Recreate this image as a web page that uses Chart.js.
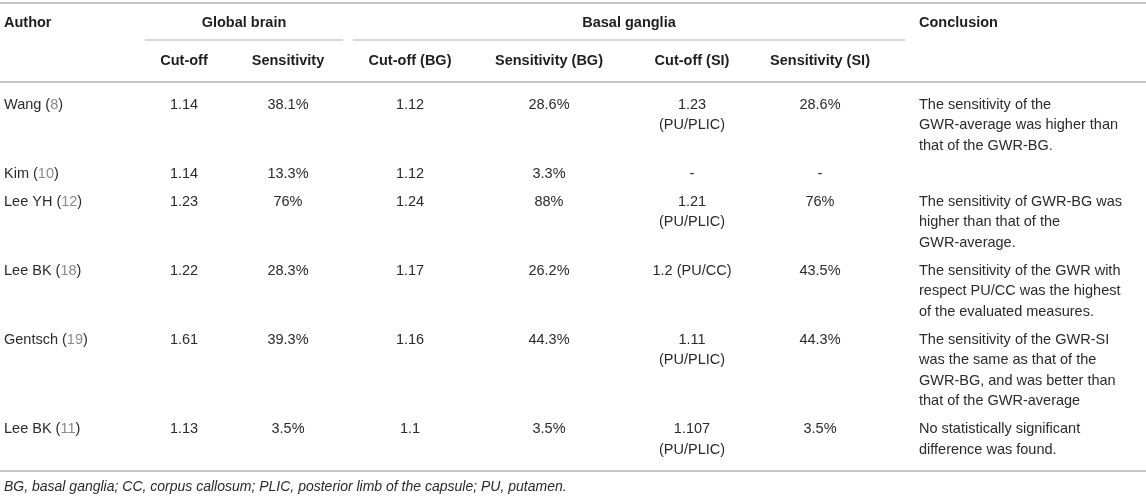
<!DOCTYPE html>
<html>
<head>
<meta charset="utf-8">
<script src="https://cdn.jsdelivr.net/npm/chart.js@4/dist/chart.umd.min.js"></script>
<style>
  html, body { margin: 0; padding: 0; background: #fff; }
  #wrap { width: 1146px; height: 499px; position: relative; }
</style>
</head>
<body>
<div id="wrap"><canvas id="c"></canvas></div>
<script>
// ---------- DATA ----------
const groupHeaders = ["Global brain", "Basal ganglia"];
const columnHeaders = ["Author", "Cut-off", "Sensitivity", "Cut-off (BG)", "Sensitivity (BG)", "Cut-off (SI)", "Sensitivity (SI)", "Conclusion"];
const authors = ["Wang", "Kim", "Lee YH", "Lee BK", "Gentsch", "Lee BK"];
const refs = ["8", "10", "12", "18", "19", "11"];
const globalCutoff = ["1.14", "1.14", "1.23", "1.22", "1.61", "1.13"];
const globalSens = ["38.1%", "13.3%", "76%", "28.3%", "39.3%", "3.5%"];
const bgCutoff = ["1.12", "1.12", "1.24", "1.17", "1.16", "1.1"];
const bgSens = ["28.6%", "3.3%", "88%", "26.2%", "44.3%", "3.5%"];
const siCutoff = [["1.23", "(PU/PLIC)"], ["-"], ["1.21", "(PU/PLIC)"], ["1.2 (PU/CC)"], ["1.11", "(PU/PLIC)"], ["1.107", "(PU/PLIC)"]];
const siSens = ["28.6%", "-", "76%", "43.5%", "44.3%", "3.5%"];
const conclusions = [
  ["The sensitivity of the", "GWR-average was higher than", "that of the GWR-BG."],
  [],
  ["The sensitivity of GWR-BG was", "higher than that of the", "GWR-average."],
  ["The sensitivity of the GWR with", "respect PU/CC was the highest", "of the evaluated measures."],
  ["The sensitivity of the GWR-SI", "was the same as that of the", "GWR-BG, and was better than", "that of the GWR-average"],
  ["No statistically significant", "difference was found."]
];
const footnote = "BG, basal ganglia; CC, corpus callosum; PLIC, posterior limb of the capsule; PU, putamen.";

// ---------- LAYOUT (positions / styles, in scale units) ----------
const W = 1146, H = 499;
const colX = { author: 4, gCut: 184, gSens: 288, bCut: 410, bSens: 549, sCut: 692, sSens: 820, concl: 919 };
const layout = {
  topLine: 3, groupY: 23, underlineY: 40, headY: 61, headLine: 82,
  firstRowY: 104.5, lineH: 20.5, rowGap: 7.5, bottomLine: 471, footY: 487,
  gUnder: [145, 343], bUnder: [353, 905],
  headerGroupX: [244, 629], conclHeadX: 919
};
const FONT = '"Liberation Sans", Arial, Helvetica, sans-serif';
const style = {
  size: 14.5, footSize: 14, text: "#2b2b2b", head: "#1e1e1e", ref: "#8a8a8a",
  rule: "#c6c6c6", thinRule: "#c9c9c9"
};

const tablePlugin = {
  id: "tableDraw",
  afterDraw(chart) {
    const ctx = chart.ctx;
    const sx = chart.scales.x, sy = chart.scales.y;
    const X = v => sx.getPixelForValue(v);
    const Y = v => sy.getPixelForValue(v);
    ctx.save();
    ctx.textBaseline = "middle";

    function hline(x0, x1, y, w, col) {
      ctx.beginPath();
      ctx.strokeStyle = col; ctx.lineWidth = w;
      ctx.moveTo(X(x0), Y(y)); ctx.lineTo(X(x1), Y(y)); ctx.stroke();
    }
    hline(0, W, layout.topLine, 2, style.rule);
    hline(layout.gUnder[0], layout.gUnder[1], layout.underlineY, 1.5, style.thinRule);
    hline(layout.bUnder[0], layout.bUnder[1], layout.underlineY, 1.5, style.thinRule);
    hline(0, W, layout.headLine, 2, style.rule);
    hline(0, W, layout.bottomLine, 2, style.rule);

    // headers
    ctx.font = "bold " + style.size + "px " + FONT;
    ctx.fillStyle = style.head;
    ctx.textAlign = "left";
    ctx.fillText(columnHeaders[0], X(colX.author), Y(layout.groupY));
    ctx.fillText(columnHeaders[7], X(layout.conclHeadX), Y(layout.groupY));
    ctx.textAlign = "center";
    ctx.fillText(groupHeaders[0], X(layout.headerGroupX[0]), Y(layout.groupY));
    ctx.fillText(groupHeaders[1], X(layout.headerGroupX[1]), Y(layout.groupY));
    const centers = [colX.gCut, colX.gSens, colX.bCut, colX.bSens, colX.sCut, colX.sSens];
    for (let i = 0; i < 6; i++) ctx.fillText(columnHeaders[i + 1], X(centers[i]), Y(layout.headY));

    // body
    ctx.font = style.size + "px " + FONT;
    let y = layout.firstRowY;
    for (let r = 0; r < authors.length; r++) {
      const nLines = Math.max(1, conclusions[r].length, siCutoff[r].length);
      ctx.textAlign = "left";
      let x = X(colX.author);
      const parts = [[authors[r] + " (", style.text], [refs[r], style.ref], [")", style.text]];
      for (const [t, c] of parts) {
        ctx.fillStyle = c; ctx.fillText(t, x, Y(y)); x += ctx.measureText(t).width;
      }
      ctx.fillStyle = style.text;
      ctx.textAlign = "center";
      ctx.fillText(globalCutoff[r], X(colX.gCut), Y(y));
      ctx.fillText(globalSens[r], X(colX.gSens), Y(y));
      ctx.fillText(bgCutoff[r], X(colX.bCut), Y(y));
      ctx.fillText(bgSens[r], X(colX.bSens), Y(y));
      siCutoff[r].forEach((t, k) => ctx.fillText(t, X(colX.sCut), Y(y + k * layout.lineH)));
      ctx.fillText(siSens[r], X(colX.sSens), Y(y));
      ctx.textAlign = "left";
      conclusions[r].forEach((t, k) => ctx.fillText(t, X(colX.concl), Y(y + k * layout.lineH)));
      y += nLines * layout.lineH + layout.rowGap;
    }

    // footnote
    ctx.font = "italic " + style.footSize + "px " + FONT;
    ctx.fillStyle = style.text;
    ctx.textAlign = "left";
    ctx.fillText(footnote, X(colX.author), Y(layout.footY));
    ctx.restore();
  }
};

new Chart(document.getElementById("c"), {
  type: "scatter",
  data: { datasets: [{ data: [], pointRadius: 0 }] },
  options: {
    responsive: true, maintainAspectRatio: false, animation: false,
    layout: { padding: 0 },
    plugins: { legend: { display: false }, tooltip: { enabled: false } },
    scales: {
      x: { type: "linear", min: 0, max: W, display: false },
      y: { type: "linear", min: 0, max: H, reverse: true, display: false }
    }
  },
  plugins: [tablePlugin]
});
</script>
</body>
</html>
